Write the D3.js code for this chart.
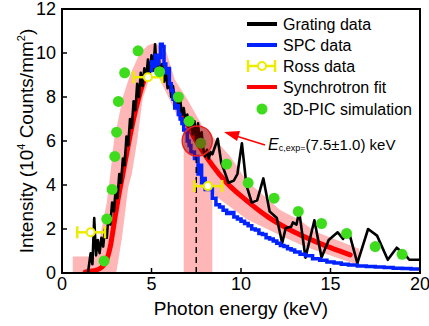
<!DOCTYPE html>
<html><head><meta charset="utf-8">
<script src="https://cdn.jsdelivr.net/npm/d3@7"></script>
<style>body{margin:0;background:#fff} svg{display:block;font-family:"Liberation Sans",Arial,sans-serif}</style>
</head><body><svg id="c" width="429" height="326"></svg>
<script>
// ---- data ----
const xTicks = [0, 5, 10, 15, 20];
const yTicks = [0, 2, 4, 6, 8, 10, 12];
const legendLabels = ["Grating data", "SPC data", "Ross data", "Synchrotron fit", "3D-PIC simulation"];

// grating data, rising part sampled every 0.1 keV from 1.5 keV
const gratingStart = 1.5, gratingStep = 0.1;
const gratingRise = [0.3,0.9,0.4,2.5,0.8,1.5,0.9,1.6,1.2,2.0,1.6,2.6,2.2,3.2,2.8,3.8,3.4,4.5,4.1,5.2,
  4.9,6.2,5.8,7.0,6.6,7.8,7.4,8.6,8.0,9.1,8.5,9.3,8.8,9.7,9.0,9.9,9.2,10.4,9.1,9.8,
  9.0,9.5,8.7,9.2,8.4,8.9,8.0,8.5,7.8,8.1,7.5,7.9,7.2,7.5,6.9,7.2,6.6,7.0,6.3,6.9,
  6.0,6.8,5.9,6.4,5.6,5.3,5.6,5.2,5.5,5.4];
const gratingTailX = [8.7,8.9,9.0,9.3,9.6,9.8,10.05,10.3,10.6,10.9,11.25,11.6,12.0,12.3,12.5,12.8,12.9,13.1,13.25,13.6,14.1,14.5,14.9,15.4,15.7,16.0,16.5,17.1,17.6,18.2,18.7,19.2,19.4,20.0];
const gratingTailY = [6.1,5.0,4.8,4.1,4.2,4.5,5.9,4.0,3.2,3.3,4.3,2.8,2.5,1.35,2.05,2.1,2.3,2.2,2.8,0.7,2.4,0.7,1.5,1.85,1.55,1.95,0.45,2.0,1.7,0.6,1.15,0.8,0.6,0.6];

// SPC data (step)
const spcX = [4.9,5.0,5.1,5.2,5.3,5.4,5.5,5.6,5.7,5.8,5.9,6.0,6.1,6.2,6.3,6.4,6.5,6.6,6.7,6.8,6.9,7.0,7.1,7.2,7.3,7.4,7.5,7.6,7.7,7.8,7.9,8.0,8.2,8.4,8.6,8.8,9.0,9.2,9.4,9.6,9.8,10.0,10.2,10.4,10.6,10.8,11.0,11.2,11.4,11.6,11.8,12.0,12.2,12.4,12.6,12.8,13.0,13.3,13.6,14.0,14.4,14.8,15.2,15.6,16.0,16.5,17.0,17.5,18.0,18.5,19.0,19.5,20.0];
const spcY = [9.2,9.6,9.4,9.9,9.5,9.8,10.4,10.3,9.5,9.1,9.3,8.6,8.3,7.9,7.5,7.6,7.2,7.0,6.8,6.5,6.4,6.0,5.8,5.5,5.5,5.2,5.3,4.5,4.9,4.1,4.3,3.8,3.85,3.4,3.1,3.0,2.85,2.7,2.75,2.55,2.45,2.35,2.25,2.15,2.0,1.95,1.8,1.75,1.6,1.55,1.45,1.35,1.25,1.2,1.1,1.05,0.95,0.85,0.78,0.65,0.58,0.5,0.45,0.4,0.36,0.32,0.3,0.27,0.25,0.22,0.2,0.18,0.17];

// Ross data
const rossX = [1.6, 4.8, 8.15];
const rossY = [1.85, 8.9, 3.95];
const rossXlo = [0.85, 4.0, 7.4];
const rossXhi = [2.4, 5.6, 8.95];

// synchrotron fit
const fitX = [1.3,1.8,2.2,2.5,2.7,2.9,3.1,3.4,3.7,4.0,4.3,4.6,4.9,5.1,5.4,5.8,6.3,6.8,7.5,8.4,9.2,10.3,11.5,13.0,14.1,15.0,16.1];
const fitY = [0.05,0.1,0.25,0.6,1.2,2.2,3.2,4.5,5.8,7.0,8.0,8.8,9.35,9.5,9.4,8.95,8.0,7.1,6.0,4.9,4.1,3.3,2.55,1.85,1.45,1.15,0.82];

// uncertainty band outline (keV, value)
const bandX = [0.6,0.6,1.9,2.0,2.2,2.5,2.7,2.9,3.4,3.8,4.35,4.8,5.2,5.6,5.85,6.3,7.0,7.9,8.4,9.4,10.3,12.2,13.3,14.1,16.6,
  16.6,14.1,13.3,12.2,10.3,9.4,8.4,8.4,6.8,6.8,6.0,5.1,4.5,4.2,3.9,3.7,3.35,3.05,3.0];
const bandY = [0,0.75,0.75,1.0,1.95,3.2,4.5,6.0,8.0,9.0,10.0,10.35,10.45,10.25,10.0,8.8,7.9,6.6,6.2,5.3,4.2,2.85,2.4,1.9,1.1,
  0.35,1.05,1.3,1.7,2.45,3.0,3.6,0,0,6.5,7.9,9.4,7.9,6.0,4.5,3.9,1.6,0.1,0];

// 3D-PIC simulation
const picX = [2.35,2.5,2.8,2.95,3.05,3.15,3.5,4.25,5.45,6.5,7.1,7.75,9.2,10.4,11.85,13.2,14.5,15.9,17.5,19.0];
const picY = [0.55,2.45,3.8,5.3,6.4,7.8,9.1,10.1,9.15,8.0,6.9,5.9,4.95,4.1,3.4,2.8,2.25,1.8,1.2,0.85];

const ecValue = 7.5, ecCircleY = 6.0;

// ---- drawing ----
const svg = d3.select("#c");
const L = 62, R = 420, T = 9, B = 273;
const x = d3.scaleLinear().domain([0, 20]).range([L, R]);
const y = d3.scaleLinear().domain([0, 12]).range([B, T]);
svg.append("clipPath").attr("id", "cp").append("rect")
  .attr("x", L).attr("y", T).attr("width", R - L).attr("height", B - T);
const g = svg.append("g").attr("clip-path", "url(#cp)");

const RED = "#ff0000", BLUE = "#0022ff", YEL = "#ecec00", GRN = "#3fdc1e", PINK = "#ffb6b6";

// band
g.append("path").attr("fill", PINK)
  .attr("d", d3.line().x(d => x(d[0])).y(d => y(d[1]))(bandX.map((v, i) => [v, bandY[i]])) + "Z");

// fit
g.append("path").attr("fill", "none").attr("stroke", RED).attr("stroke-width", 5).attr("stroke-linecap", "round")
  .attr("d", d3.line().curve(d3.curveMonotoneX).x(d => x(d[0])).y(d => y(d[1]))(fitX.map((v, i) => [v, fitY[i]])));

// grating
const grat = [[1.45, 0]].concat(gratingRise.map((v, i) => [gratingStart + i * gratingStep, v]))
  .concat(gratingTailX.map((v, i) => [v, gratingTailY[i]]));
g.append("path").attr("fill", "none").attr("stroke", "#000").attr("stroke-width", 2.6).attr("stroke-linejoin", "round")
  .attr("d", d3.line().x(d => x(d[0])).y(d => y(d[1]))(grat));

// SPC
g.append("path").attr("fill", "none").attr("stroke", BLUE).attr("stroke-width", 3.5)
  .attr("d", d3.line().curve(d3.curveStepAfter).x(d => x(d[0])).y(d => y(d[1]))(spcX.map((v, i) => [v, spcY[i]])));

// dashed line
g.append("line").attr("x1", x(ecValue)).attr("x2", x(ecValue)).attr("y1", y(0)).attr("y2", y(5.4))
  .attr("stroke", "#000").attr("stroke-width", 1.5).attr("stroke-dasharray", "6,4");

// Ross
const ross = g.append("g");
rossX.forEach((v, i) => {
  ross.append("line").attr("x1", x(rossXlo[i])).attr("x2", x(rossXhi[i])).attr("y1", y(rossY[i])).attr("y2", y(rossY[i]))
    .attr("stroke", YEL).attr("stroke-width", 2.5);
  [rossXlo[i], rossXhi[i]].forEach(e => ross.append("line").attr("x1", x(e)).attr("x2", x(e))
    .attr("y1", y(rossY[i]) - 6).attr("y2", y(rossY[i]) + 6).attr("stroke", YEL).attr("stroke-width", 2.5));
  ross.append("circle").attr("cx", x(v)).attr("cy", y(rossY[i])).attr("r", 4)
    .attr("fill", "#fff").attr("stroke", YEL).attr("stroke-width", 2);
});

// PIC
g.selectAll(".pic").data(picX).enter().append("circle")
  .attr("cx", d => x(d)).attr("cy", (d, i) => y(picY[i])).attr("r", 5.5).attr("fill", GRN);

// circle highlight
g.append("circle").attr("cx", x(ecValue) + 1).attr("cy", y(ecCircleY)).attr("r", 15)
  .attr("fill", "rgba(140,0,0,0.45)").attr("stroke", "#ee2222").attr("stroke-width", 1.5);

// frame & ticks
svg.append("rect").attr("x", L).attr("y", T).attr("width", R - L).attr("height", B - T)
  .attr("fill", "none").attr("stroke", "#000").attr("stroke-width", 2);
const ax = svg.append("g").attr("font-size", 18).attr("fill", "#000");
xTicks.forEach(t => {
  ax.append("line").attr("x1", x(t)).attr("x2", x(t)).attr("y1", B).attr("y2", B - 5).attr("stroke", "#000").attr("stroke-width", 1.5);
  ax.append("text").attr("x", x(t)).attr("y", 290).attr("text-anchor", "middle").text(t);
});
yTicks.forEach(t => {
  ax.append("line").attr("x1", L).attr("x2", L + 5).attr("y1", y(t)).attr("y2", y(t)).attr("stroke", "#000").attr("stroke-width", 1.5);
  ax.append("text").attr("x", 56).attr("y", y(t)).attr("dy", "0.36em").attr("text-anchor", "end").text(t);
});
svg.append("text").attr("x", (L + R) / 2).attr("y", 315).attr("text-anchor", "middle").attr("font-size", 19)
  .text("Photon energy (keV)");
const yl = svg.append("text").attr("transform", `translate(33,${(T + B) / 2}) rotate(-90)`)
  .attr("text-anchor", "middle").attr("font-size", 19);
yl.append("tspan").text("Intensity (10");
yl.append("tspan").attr("font-size", 11).attr("dy", -8).text("4");
yl.append("tspan").attr("dy", 8).text(" Counts/mm");
yl.append("tspan").attr("font-size", 11).attr("dy", -8).text("2");
yl.append("tspan").attr("dy", 8).text(")");

// legend
const lg = svg.append("g").attr("font-size", 16);
const ly = [24, 45, 66, 87, 109];
const lcol = ["#000", BLUE, YEL, RED, GRN];
legendLabels.forEach((lab, i) => {
  const yy = ly[i];
  if (i === 4) {
    lg.append("circle").attr("cx", 262).attr("cy", yy).attr("r", 5.5).attr("fill", GRN);
  } else if (i === 2) {
    lg.append("line").attr("x1", 248).attr("x2", 275).attr("y1", yy).attr("y2", yy).attr("stroke", YEL).attr("stroke-width", 2.5);
    [248, 275].forEach(e => lg.append("line").attr("x1", e).attr("x2", e).attr("y1", yy - 6).attr("y2", yy + 6).attr("stroke", YEL).attr("stroke-width", 2.5));
    lg.append("circle").attr("cx", 262).attr("cy", yy).attr("r", 4).attr("fill", "#fff").attr("stroke", YEL).attr("stroke-width", 2);
  } else {
    lg.append("line").attr("x1", 247).attr("x2", 277).attr("y1", yy).attr("y2", yy).attr("stroke", lcol[i]).attr("stroke-width", 4);
  }
  lg.append("text").attr("x", 283).attr("y", yy).attr("dy", "0.36em").text(lab);
});

// annotation arrow
svg.append("line").attr("x1", 265).attr("y1", 145).attr("x2", 228).attr("y2", 133.5)
  .attr("stroke", RED).attr("stroke-width", 1.5);
svg.append("path").attr("d", "M224,132 L240,131 L237,141 Z").attr("fill", RED);
const an = svg.append("text").attr("x", 268).attr("y", 150).attr("font-size", 15);
an.append("tspan").attr("font-style", "italic").attr("font-size", 16).text("E");
an.append("tspan").attr("font-size", 9).attr("dy", 1).text("c,exp=");
an.append("tspan").attr("dy", -1).text("(7.5±1.0) keV");
</script></body></html>
